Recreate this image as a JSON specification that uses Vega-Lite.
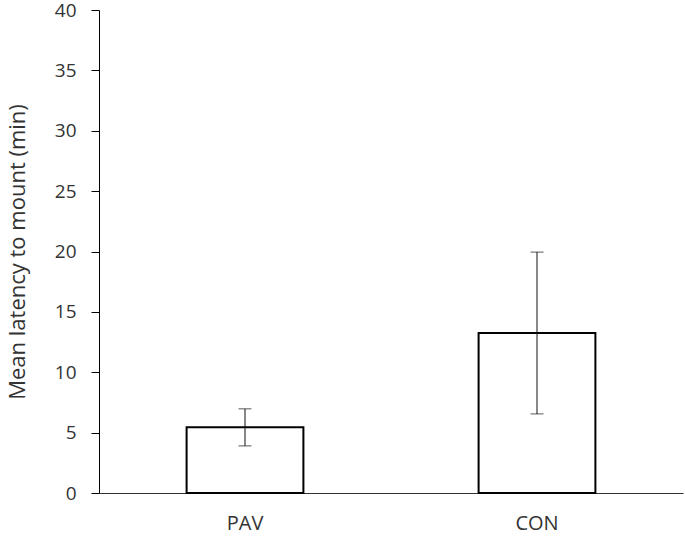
{
  "$schema": "https://vega.github.io/schema/vega-lite/v6.json",
  "autosize": {"type": "none"},
  "padding": {"left": 99, "top": 10, "right": 2, "bottom": 44},
  "width": 584,
  "height": 483,
  "background": "white",
  "config": {
    "view": {"stroke": null},
    "font": "Open Sans",
    "axis": {"grid": false, "domainColor": "#000000", "tickColor": "#000000", "labelColor": "#333333", "titleColor": "#333333", "labelFont": "Open Sans", "titleFont": "Open Sans", "labelFontSize": 19, "titleFontSize": 22, "titleFontWeight": "normal", "domainWidth": 1, "tickWidth": 1}
  },
  "data": {"values": [
    {"group": "PAV", "mean": 5.45, "lo": 3.9, "hi": 6.97},
    {"group": "CON", "mean": 13.25, "lo": 6.55, "hi": 19.95}
  ]},
  "encoding": {
    "x": {"field": "group", "type": "nominal", "sort": ["PAV", "CON"],
      "scale": {"paddingInner": 0.6, "paddingOuter": 0.3},
      "axis": {"title": null, "ticks": false, "labelAngle": 0, "labelPadding": 20, "labelFontSize": 20, "domainColor": "#333333"}}
  },
  "layer": [
    {
      "mark": {"type": "bar", "fill": "white", "stroke": "black", "strokeWidth": 2},
      "encoding": {
        "y": {"field": "mean", "type": "quantitative",
          "scale": {"domain": [0, 40], "nice": false},
          "axis": {"title": "Mean latency to mount (min)", "values": [0,5,10,15,20,25,30,35,40], "tickSize": 8, "labelPadding": 15, "titlePadding": 25, "domainColor": "#000000"}}
      }
    },
    {
      "mark": {"type": "rule", "color": "#111111", "strokeWidth": 1},
      "encoding": {
        "y": {"field": "lo", "type": "quantitative"},
        "y2": {"field": "hi"}
      }
    },
    {
      "mark": {"type": "tick", "color": "#111111", "thickness": 1, "size": 13, "orient": "horizontal"},
      "encoding": {"y": {"field": "lo", "type": "quantitative"}}
    },
    {
      "mark": {"type": "tick", "color": "#111111", "thickness": 1, "size": 13, "orient": "horizontal"},
      "encoding": {"y": {"field": "hi", "type": "quantitative"}}
    }
  ]
}
